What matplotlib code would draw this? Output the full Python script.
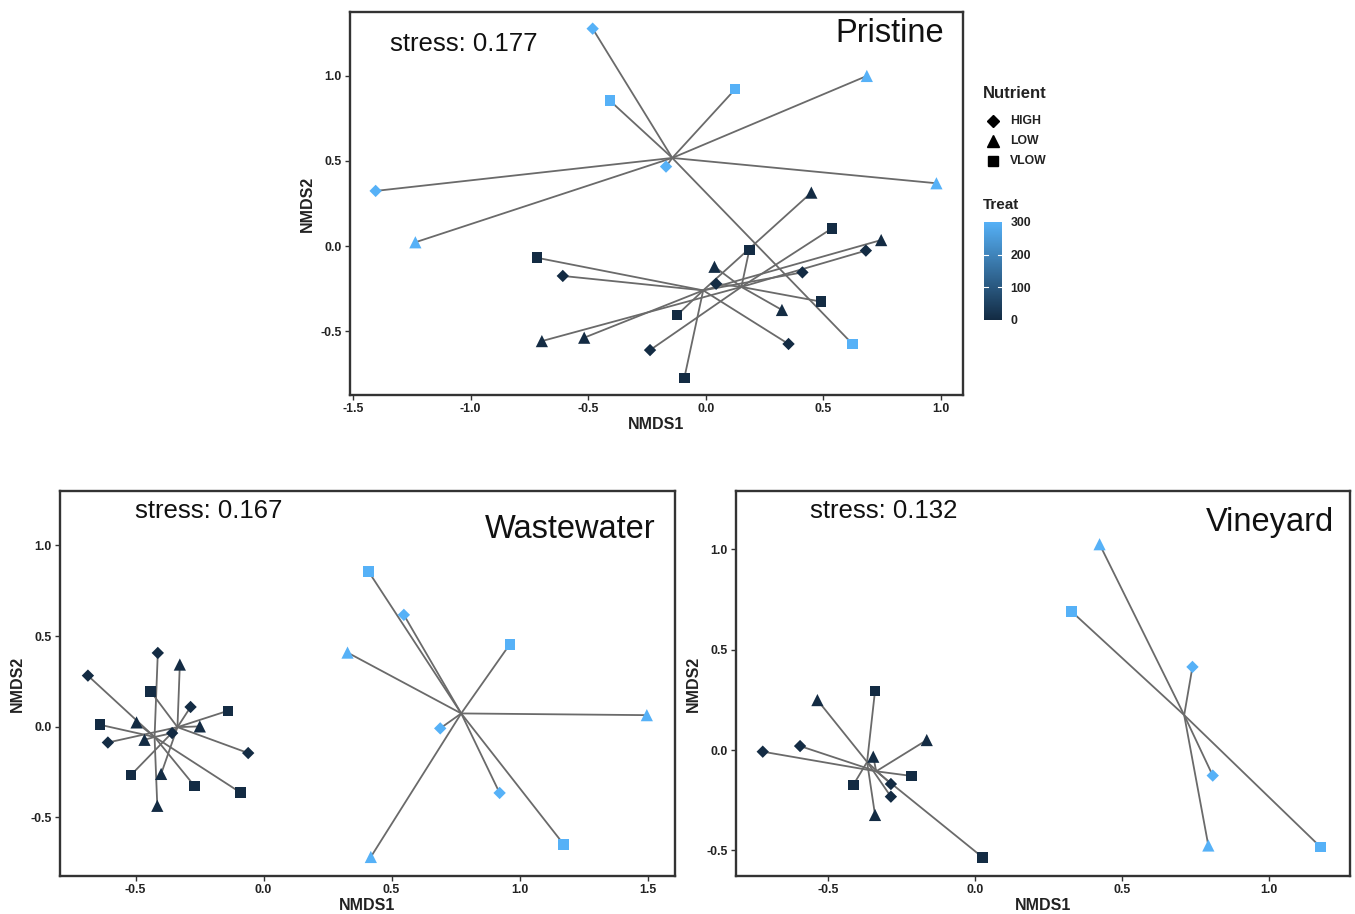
import numpy as np
import matplotlib
matplotlib.use("Agg")
import matplotlib.pyplot as plt
from matplotlib.colors import LinearSegmentedColormap, Normalize
from matplotlib.lines import Line2D

plt.rcParams['font.family'] = ['Liberation Sans', 'DejaVu Sans']
plt.rcParams['axes.unicode_minus'] = False

# ---------------- data ----------------
nutrient_levels = ["HIGH", "LOW", "VLOW"]
treat_ticks = [0, 100, 200, 300]

# Pristine
pr_x = [-0.481, -0.408, 0.125, 0.685, -0.169, -1.404, 0.981, -1.235, 0.624,
        -0.718, -0.091, -0.122, 0.449, -0.517, 0.746, -0.608, 0.352, 0.411,
        0.185, 0.537, 0.490, 0.037, 0.324, -0.697, -0.237, 0.044, 0.681]
pr_y = [1.278, 0.855, 0.922, 1.000, 0.467, 0.324, 0.369, 0.022, -0.576,
        -0.069, -0.775, -0.406, 0.314, -0.539, 0.035, -0.176, -0.576, -0.155,
        -0.024, 0.104, -0.327, -0.122, -0.376, -0.559, -0.612, -0.222, -0.027]
pr_nut = ["HIGH", "VLOW", "VLOW", "LOW", "HIGH", "HIGH", "LOW", "LOW", "VLOW",
          "VLOW", "VLOW", "VLOW", "LOW", "LOW", "LOW", "HIGH", "HIGH", "HIGH",
          "VLOW", "VLOW", "VLOW", "LOW", "LOW", "LOW", "HIGH", "HIGH", "HIGH"]
pr_treat = [300] * 9 + [0] * 9 + [3] * 9

# Wastewater
ww_x = [0.410, 0.548, 0.962, 0.328, 1.497, 0.690, 0.922, 1.172, 0.419,
        -0.686, -0.413, -0.357, -0.496, -0.465, -0.415, -0.639, -0.270, -0.090,
        -0.285, -0.608, -0.060, -0.327, -0.249, -0.400, -0.441, -0.139, -0.517]
ww_y = [0.856, 0.617, 0.455, 0.409, 0.064, -0.009, -0.365, -0.648, -0.718,
        0.282, 0.407, -0.035, 0.024, -0.072, -0.436, 0.011, -0.326, -0.363,
        0.109, -0.087, -0.145, 0.343, 0.002, -0.260, 0.195, 0.088, -0.265]
ww_nut = ["VLOW", "HIGH", "VLOW", "LOW", "LOW", "HIGH", "HIGH", "VLOW", "LOW",
          "HIGH", "HIGH", "HIGH", "LOW", "LOW", "LOW", "VLOW", "VLOW", "VLOW",
          "HIGH", "HIGH", "HIGH", "LOW", "LOW", "LOW", "VLOW", "VLOW", "VLOW"]
ww_treat = [300] * 9 + [0] * 9 + [3] * 9

# Vineyard
vy_x = [0.424, 0.328, 0.740, 0.809, 0.794, 1.176,
        -0.340, -0.414, -0.536, -0.340, -0.286, -0.286,
        0.026, -0.215, -0.164, -0.346, -0.722, -0.595]
vy_y = [1.025, 0.691, 0.414, -0.127, -0.475, -0.483,
        0.295, -0.174, 0.249, -0.323, -0.169, -0.232,
        -0.534, -0.129, 0.050, -0.033, -0.008, 0.020]
vy_nut = ["LOW", "VLOW", "HIGH", "HIGH", "LOW", "VLOW",
          "VLOW", "VLOW", "LOW", "LOW", "HIGH", "HIGH",
          "VLOW", "VLOW", "LOW", "LOW", "HIGH", "HIGH"]
vy_treat = [300] * 6 + [0] * 6 + [3] * 6

stress_values = {"Pristine": "0.177", "Wastewater": "0.167", "Vineyard": "0.132"}

# ---------------- style ----------------
W, H = 1355, 914
MARKERS = {"HIGH": "D", "LOW": "^", "VLOW": "s"}
MSIZE = {"HIGH": 6.3, "LOW": 8.8, "VLOW": 7.6}
cmap = LinearSegmentedColormap.from_list("treat", ["#132B43", "#56B1F7"])
norm = Normalize(0, 300)
TXT = "#222222"

fig = plt.figure(figsize=(W / 100, H / 100), dpi=100)


def rect(x0, y0, x1, y1):
    return [x0 / W, 1 - y1 / H, (x1 - x0) / W, (y1 - y0) / H]


def panel(r, x, y, nut, treat, xlim, ylim, xticks, yticks, name, stress_xy, title_xy):
    ax = fig.add_axes(r)
    x = np.asarray(x, float)
    y = np.asarray(y, float)
    nut = np.asarray(nut)
    treat = np.asarray(treat)
    for t in np.unique(treat):
        m = treat == t
        cx, cy = x[m].mean(), y[m].mean()
        for xi, yi in zip(x[m], y[m]):
            ax.plot([cx, xi], [cy, yi], color="#6a6a6a", lw=1.3, zorder=1,
                    solid_capstyle="butt")
    for n in nutrient_levels:
        m = nut == n
        ax.scatter(x[m], y[m], c=treat[m], cmap=cmap, norm=norm,
                   marker=MARKERS[n], s=MSIZE[n] ** 2, edgecolors="none",
                   zorder=3)
    ax.set_xlim(*xlim)
    ax.set_ylim(*ylim)
    ax.set_xticks(xticks)
    ax.set_yticks(yticks)
    ax.set_xticklabels([f"{v:.1f}" for v in xticks])
    ax.set_yticklabels([f"{v:.1f}" for v in yticks])
    for s in ax.spines.values():
        s.set_linewidth(1.7)
        s.set_color("#333333")
    ax.tick_params(direction="out", length=3.5, width=1.0, color="#333333",
                   labelsize=8.8, labelcolor=TXT, pad=2.5)
    for lab in ax.get_xticklabels() + ax.get_yticklabels():
        lab.set_fontweight("bold")
    ax.set_xlabel("NMDS1", fontsize=11.5, fontweight="bold", color=TXT, labelpad=1)
    ax.set_ylabel("NMDS2", fontsize=11.5, fontweight="bold", color=TXT, labelpad=4)
    ax.text(stress_xy[0], stress_xy[1], f"stress: {stress_values[name]}",
            transform=ax.transAxes, fontsize=18.5, ha="left", va="center",
            color="#111111")
    ax.text(title_xy[0], title_xy[1], name, transform=ax.transAxes,
            fontsize=23.5, ha="right", va="center", color="#111111")
    return ax


ticks_a = [-1.5, -1.0, -0.5, 0.0, 0.5, 1.0]
ticks_b = [-0.5, 0.0, 0.5, 1.0, 1.5]
ticks_c = [-0.5, 0.0, 0.5, 1.0]
yt = [-0.5, 0.0, 0.5, 1.0]

panel(rect(350, 12, 963, 395), pr_x, pr_y, pr_nut, pr_treat,
      (-1.513, 1.094), (-0.876, 1.376), ticks_a, yt, "Pristine",
      ((390 - 350) / 613, 1 - (44 - 12) / 383), ((944 - 350) / 613, 1 - (34 - 12) / 383))

panel(rect(60, 491, 675, 876), ww_x, ww_y, ww_nut, ww_treat,
      (-0.795, 1.607), (-0.823, 1.300), ticks_b, yt, "Wastewater",
      ((135 - 60) / 615, 1 - (511 - 491) / 385), ((655 - 60) / 615, 1 - (529 - 491) / 385))

panel(rect(736, 491, 1350, 876), vy_x, vy_y, vy_nut, vy_treat,
      (-0.813, 1.276), (-0.627, 1.290), ticks_c, yt, "Vineyard",
      ((810 - 736) / 614, 1 - (511 - 491) / 385), ((1334 - 736) / 614, 1 - (523 - 491) / 385))

# ---------------- legend ----------------
fig.text(983 / W, 1 - 93 / H, "Nutrient", fontsize=12, fontweight="bold",
         color=TXT, ha="left", va="center")
for i, n in enumerate(nutrient_levels):
    yy = 121 + 20 * i
    fig.add_artist(Line2D([993 / W], [1 - yy / H], marker=MARKERS[n],
                          markersize=MSIZE[n] * 0.9, color="black",
                          linestyle="none", transform=fig.transFigure))
    fig.text(1010 / W, 1 - yy / H, n, fontsize=8.8, fontweight="bold",
             color=TXT, ha="left", va="center")

fig.text(983 / W, 1 - 205 / H, "Treat", fontsize=11, fontweight="bold",
         color=TXT, ha="left", va="center")
cax = fig.add_axes(rect(984, 222, 1002, 320))
grad = np.linspace(0, 300, 256).reshape(-1, 1)
cax.imshow(grad, aspect="auto", cmap=cmap, norm=norm, origin="lower",
           extent=[0, 1, 0, 300])
for v in treat_ticks:
    if 0 < v < 300:
        cax.plot([0, 0.2], [v, v], color="white", lw=0.8)
        cax.plot([0.8, 1], [v, v], color="white", lw=0.8)
cax.set_xlim(0, 1)
cax.set_ylim(0, 300)
cax.set_xticks([])
cax.yaxis.tick_right()
cax.set_yticks(treat_ticks)
cax.set_yticklabels([str(v) for v in treat_ticks])
cax.tick_params(length=0, labelsize=8.8, labelcolor=TXT, pad=6)
for lab in cax.get_yticklabels():
    lab.set_fontweight("bold")
for s in cax.spines.values():
    s.set_visible(False)

fig.savefig("out.png", dpi=100)
